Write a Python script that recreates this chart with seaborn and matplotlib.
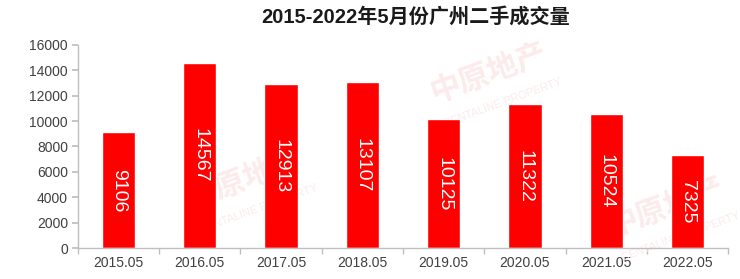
import matplotlib
matplotlib.use("Agg")
import matplotlib.pyplot as plt
import seaborn as sns
import pandas as pd
import numpy as np

categories = ["2015.05", "2016.05", "2017.05", "2018.05", "2019.05", "2020.05", "2021.05", "2022.05"]
volumes = [9106, 14567, 12913, 13107, 10125, 11322, 10524, 7325]
yticks = [0, 2000, 4000, 6000, 8000, 10000, 12000, 14000, 16000]
title = "2015-2022年5月份广州二手成交量"

sns.set_theme(style="white")
plt.rcParams['font.family'] = ['Liberation Sans', 'Noto Sans CJK SC', 'DejaVu Sans']

df = pd.DataFrame({"month": categories, "volume": volumes})

fig = plt.figure(figsize=(7.4, 2.79), dpi=100)
ax = fig.add_axes([0.105, 0.111, 0.879, 0.728])

sns.barplot(data=df, x="month", y="volume", color="#ff0000", width=0.41,
            saturation=1, ax=ax, zorder=2)

# faint watermarks, drawn behind the bars
wm_color = "#fcebeb"
for (x, y) in [(0.66, 0.74), (0.33, 0.36), (0.90, 0.26)]:
    ax.text(x, y, "中原地产", fontsize=22, fontweight="bold", color=wm_color,
            rotation=20, ha="center", va="center", family=['Noto Sans CJK SC'],
            transform=fig.transFigure, zorder=1, clip_on=False)
    ax.text(x + 0.02, y - 0.11, "CENTALINE PROPERTY", fontsize=8, color=wm_color,
            rotation=20, ha="center", va="center",
            transform=fig.transFigure, zorder=1, clip_on=False)

for i, v in enumerate(volumes):
    ax.text(i, v / 2, str(v), rotation=-90, ha="center", va="center",
            color="white", fontsize=14, zorder=3)

ax.set_xlim(-0.5, len(categories) - 0.5)
ax.set_ylim(0, 16000)
ax.set_yticks(yticks)
ax.set_yticklabels([str(t) for t in yticks])
ax.set_xlabel("")
ax.set_ylabel("")
ax.patch.set_alpha(0)

for s in ["top", "right"]:
    ax.spines[s].set_visible(False)
for s in ["left", "bottom"]:
    ax.spines[s].set_color("#bfbfbf")
    ax.spines[s].set_linewidth(1)

ax.set_xticks(np.arange(-0.5, len(categories), 1), minor=True)
ax.tick_params(axis="x", which="major", length=0, labelsize=10, colors="#404040", pad=6)
ax.tick_params(axis="x", which="minor", length=4, color="#bfbfbf", direction="out", bottom=True)
ax.tick_params(axis="y", length=4, color="#bfbfbf", direction="out", left=True,
               labelsize=10, labelcolor="#404040", pad=3)

fig.text(0.561, 0.94, title, fontsize=14.5, fontweight="bold", color="#1a1a1a",
         ha="center", va="center", family=['Liberation Sans', 'Noto Sans CJK SC'])

fig.savefig("out.png", dpi=100)
